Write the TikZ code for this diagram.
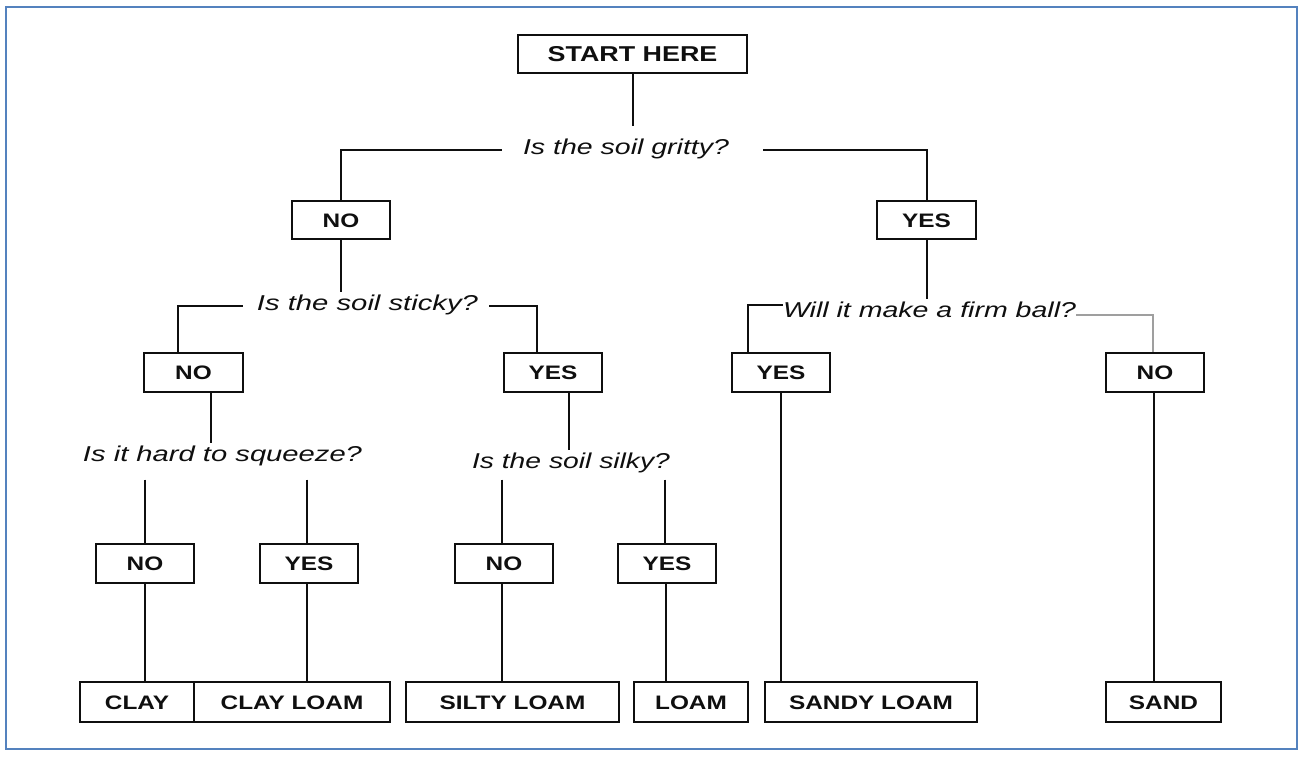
\documentclass[tikz,border=0pt]{standalone}
\usepackage{fontspec}
\setmainfont{Liberation Sans}
\newfontfamily\labfont[FakeStretch=1.25]{Liberation Sans}
\usepackage{graphicx}
\definecolor{frameblue}{RGB}{84,130,190}
\definecolor{ink}{RGB}{15,15,15}
\newcommand{\fitq}[2]{\resizebox{#1}{\height}{#2}}
\begin{document}
\begin{tikzpicture}[x=1pt,y=-1pt,
  box/.style={draw=ink, line width=1.8pt, inner sep=0pt, minimum height=38pt,
    font=\labfont\bfseries\fontsize{19.5}{22}\selectfont,
    text height=14pt, text depth=0pt, text=ink},
  ques/.style={inner xsep=0pt, inner ysep=2pt,
    font=\itshape\fontsize{21.5}{24}\selectfont,
    text height=15.5pt, text depth=4.5pt, text=ink},
  conn/.style={draw=ink, line width=1.8pt},
  faint/.style={draw=gray!75, line width=1.3pt}]

\fill[white] (0,0) rectangle (1303,756);
\useasboundingbox (0,0) rectangle (1303,756);
\draw[frameblue, line width=1.5pt] (6,7) rectangle (1297,749);

% boxes
\node[box, minimum width=229pt, font=\labfont\bfseries\fontsize{21.5}{24}\selectfont, text height=15.4pt] (start) at (632.5,54) {START HERE};
\node[box, minimum width=98pt] (no1) at (341,220) {NO};
\node[box, minimum width=99pt] (yes1) at (926.5,220) {YES};
\node[box, minimum width=99pt, minimum height=39pt] (no2) at (193.5,372.5) {NO};
\node[box, minimum width=98pt, minimum height=39pt] (yes2) at (553,372.5) {YES};
\node[box, minimum width=98pt, minimum height=39pt] (yes3) at (781,372.5) {YES};
\node[box, minimum width=98pt, minimum height=39pt] (no3) at (1155,372.5) {NO};
\node[box, minimum width=98pt, minimum height=39pt] (no4) at (145,563.5) {NO};
\node[box, minimum width=98pt, minimum height=39pt] (yes4) at (309,563.5) {YES};
\node[box, minimum width=98pt, minimum height=39pt] (no5) at (504,563.5) {NO};
\node[box, minimum width=98pt, minimum height=39pt] (yes5) at (667,563.5) {YES};
\node[box, minimum width=114pt, minimum height=40pt] (clay) at (137,702) {CLAY};
\node[box, minimum width=196pt, minimum height=40pt] (clayloam) at (292,702) {CLAY LOAM};
\node[box, minimum width=213pt, minimum height=40pt] (silty) at (512.5,702) {SILTY LOAM};
\node[box, minimum width=114pt, minimum height=40pt] (loam) at (691,702) {LOAM};
\node[box, minimum width=212pt, minimum height=40pt] (sandy) at (871,702) {SANDY LOAM};
\node[box, minimum width=115pt, minimum height=40pt] (sand) at (1163.5,702) {SAND};

% questions
\node[ques] (q1) at (626,148.5) {\fitq{206pt}{Is the soil gritty?}};
\node[ques] (q2) at (367.5,304.5) {\fitq{221pt}{Is the soil sticky?}};
\node[ques] (q3) at (222.5,455.5) {\fitq{279pt}{Is it hard to squeeze?}};
\node[ques] (q4) at (571,462.5) {\fitq{198pt}{Is the soil silky?}};
\node[ques] (q5) at (929.5,311.5) {\fitq{293pt}{Will it make a firm ball?}};

\coordinate (q3b) at ([yshift=-12pt]q3.south);
\coordinate (q4b) at ([yshift=-5pt]q4.south);

% connectors
\draw[conn] ([xshift=0.5pt]start.south) -- ([xshift=0.5pt,yshift=10pt]start.south |- q1.north);
\draw[conn] ([xshift=-21pt,yshift=-1.5pt]q1.west) -| (no1.north);
\draw[conn] ([xshift=34pt,yshift=-1.5pt]q1.east) -| ([xshift=0.5pt]yes1.north);

\draw[conn] (no1.south) -- (no1.south |- q2.north);
\draw[conn] ([xshift=-14pt,yshift=-1.5pt]q2.west) -| ([xshift=-15.5pt]no2.north);
\draw[conn] ([xshift=11pt,yshift=-1.5pt]q2.east) -| ([xshift=-16pt]yes2.north);

\draw[conn] ([xshift=17.5pt]no2.south) -- ([xshift=17.5pt]no2.south |- q3.north);
\draw[conn] ([xshift=16pt]yes2.south) -- ([xshift=16pt]yes2.south |- q4.north);

\draw[conn] (no4.north |- q3b) -- (no4.north);
\draw[conn] ([xshift=-2pt]yes4.north |- q3b) -- ([xshift=-2pt]yes4.north);
\draw[conn] ([xshift=-2pt]no5.north |- q4b) -- ([xshift=-2pt]no5.north);
\draw[conn] ([xshift=-2pt]yes5.north |- q4b) -- ([xshift=-2pt]yes5.north);

\draw[conn] ([xshift=0.5pt]yes1.south) -- ([xshift=0.5pt]yes1.south |- q5.north);
\draw[conn] ([yshift=6.5pt]q5.west) -| ([xshift=-33pt]yes3.north);
\draw[faint] ([yshift=-3.5pt]q5.east) -| ([xshift=-2pt]no3.north);

\draw[conn] (no4.south) -- (no4.south |- clay.north);
\draw[conn] ([xshift=-2pt]yes4.south) -- ([xshift=-2pt]yes4.south |- clayloam.north);
\draw[conn] ([xshift=-2pt]no5.south) -- ([xshift=-2pt]no5.south |- silty.north);
\draw[conn] ([xshift=-1pt]yes5.south) -- ([xshift=-1pt]yes5.south |- loam.north);
\draw[conn] (yes3.south) -- (yes3.south |- sandy.north);
\draw[conn] ([xshift=-1pt]no3.south) -- ([xshift=-1pt]no3.south |- sand.north);
\end{tikzpicture}
\end{document}
